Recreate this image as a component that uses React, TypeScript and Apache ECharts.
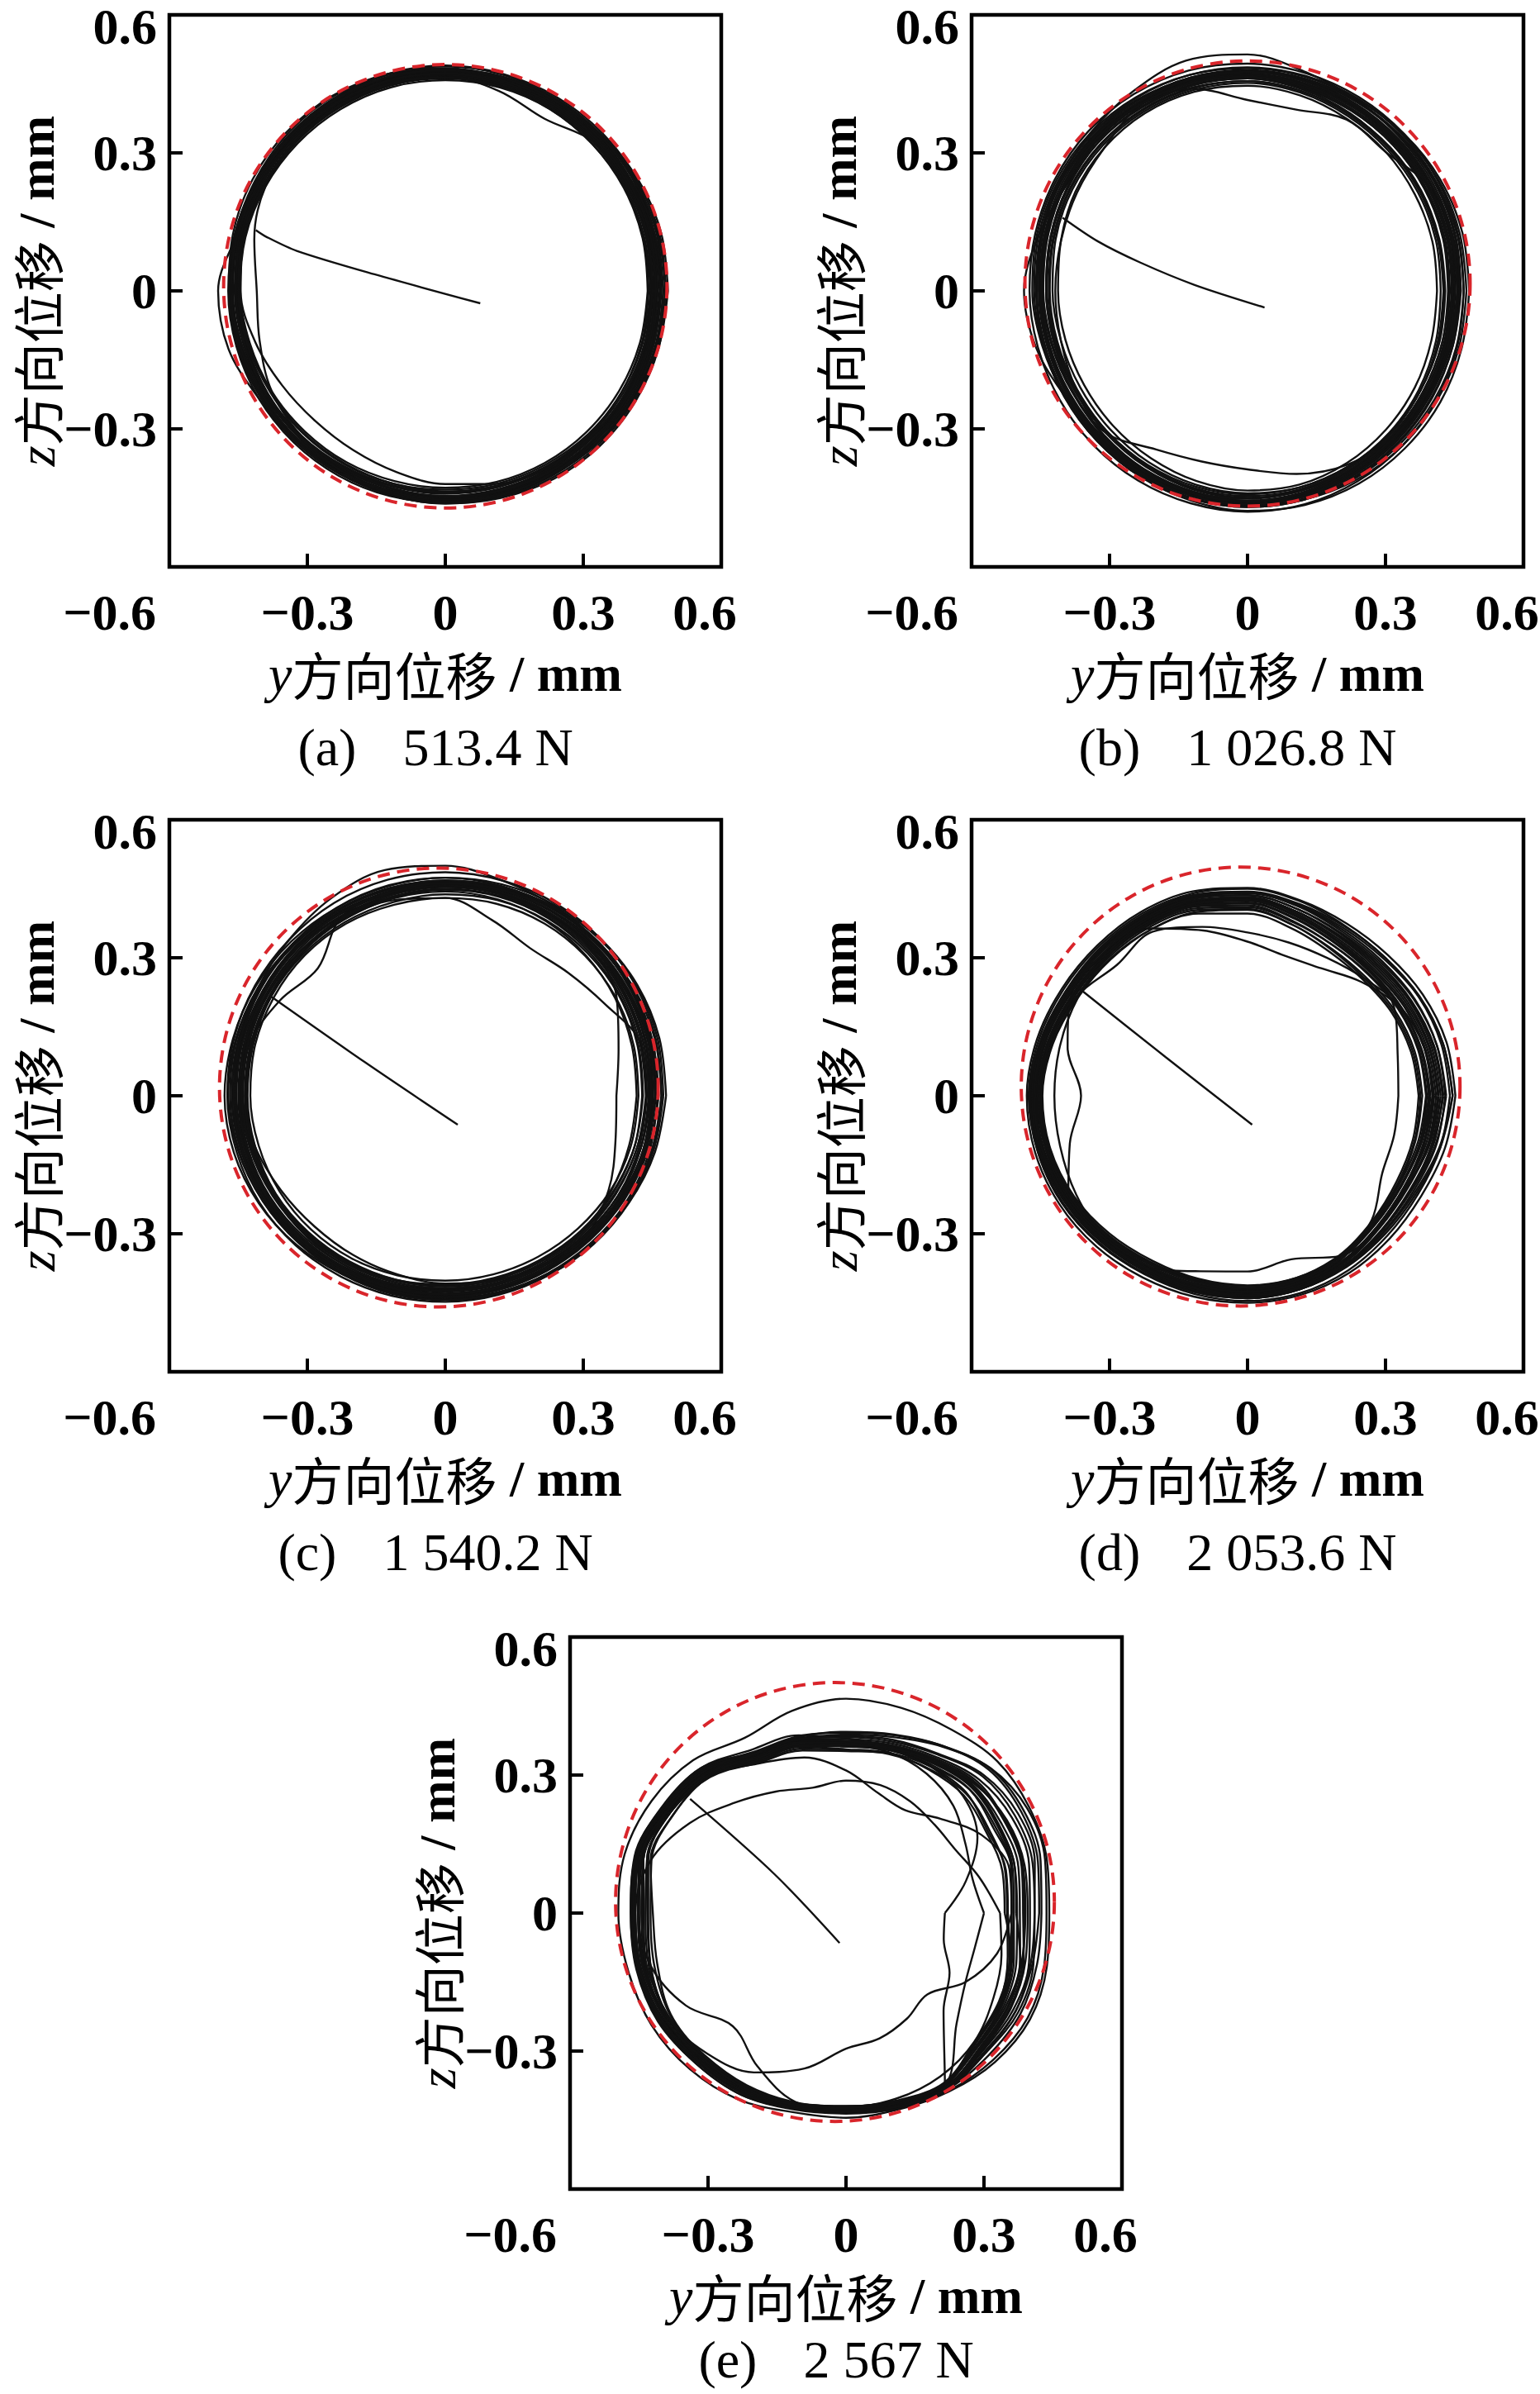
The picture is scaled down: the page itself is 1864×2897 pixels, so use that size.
import React, { useEffect, useRef } from 'react';
import * as echarts from 'echarts';

// ---------- data ----------
// readings of each orbit revolution: radius from the origin (mm x 1000) at these angles (deg, from +y towards +z)
const ANGLES = [0, 15, 30, 45, 60, 75, 90, 105, 120, 135, 150, 165, 180, 195, 210, 225, 240, 255, 270, 285, 300, 315, 330, 345];
const TICKS = [-0.6, -0.3, 0, 0.3, 0.6];
const LETTERS = ['a', 'b', 'c', 'd', 'e'];
const LOADS = ['513.4 N', '1 026.8 N', '1 540.2 N', '2 053.6 N', '2 567 N'];

const ORBIT_A = [
  [470, 472, 476, 478, 480, 482, 480, 478, 476, 474, 472, 470, 466, 462, 458, 456, 454, 452, 452, 454, 458, 462, 466, 468],
  [452, 455, 458, 460, 462, 463, 464, 466, 468, 466, 462, 458, 452, 448, 446, 444, 442, 440, 441, 442, 444, 447, 450, 451],
  [478, 480, 482, 484, 486, 488, 490, 488, 484, 480, 476, 474, 472, 470, 468, 466, 464, 462, 460, 462, 464, 468, 472, 476],
  [446, 448, 452, 456, 458, 460, 462, 462, 460, 458, 456, 452, 448, 444, 440, 438, 436, 434, 432, 434, 436, 440, 442, 444],
  [462, 466, 468, 458, 432, 450, 466, 472, 474, 470, 468, 466, 462, 458, 452, 448, 445, 446, 448, 450, 454, 456, 458, 460],
  [484, 486, 484, 480, 476, 474, 476, 480, 482, 478, 472, 470, 494, 488, 468, 462, 458, 456, 455, 458, 462, 468, 474, 480],
  [458, 460, 462, 464, 466, 468, 468, 470, 468, 466, 462, 456, 445, 428, 410, 400, 400, 408, 420, 434, 446, 452, 455, 456],
  [450, 452, 455, 458, 460, 462, 464, 464, 462, 458, 452, 430, 410, 418, 436, 444, 446, 446, 447, 448, 450, 452, 452, 450],
  [474, 476, 478, 480, 482, 482, 482, 482, 480, 478, 476, 474, 470, 468, 464, 462, 460, 458, 458, 460, 462, 466, 470, 472],
  [440, 444, 448, 452, 456, 458, 458, 458, 456, 454, 452, 450, 446, 440, 436, 432, 430, 428, 428, 430, 432, 434, 436, 438],
  [466, 468, 470, 474, 476, 478, 478, 476, 474, 472, 470, 466, 462, 460, 458, 456, 452, 450, 450, 452, 456, 458, 462, 464],
  [456, 458, 462, 464, 466, 466, 468, 468, 466, 462, 458, 456, 454, 452, 450, 448, 446, 446, 446, 446, 448, 450, 452, 454],
  [480, 482, 480, 476, 472, 470, 472, 474, 476, 476, 474, 472, 468, 464, 460, 458, 458, 460, 462, 466, 472, 476, 478, 480],
  [448, 452, 458, 462, 466, 468, 470, 472, 474, 472, 470, 468, 464, 458, 452, 446, 442, 440, 438, 440, 442, 444, 446, 448],
  [468, 470, 474, 478, 482, 486, 488, 486, 482, 478, 474, 470, 466, 460, 454, 450, 448, 446, 446, 448, 452, 458, 462, 466],
  [460, 462, 466, 470, 474, 476, 476, 474, 470, 466, 462, 458, 454, 450, 448, 448, 450, 452, 454, 456, 458, 458, 458, 460],
  [455, 460, 466, 468, 470, 474, 478, 480, 478, 472, 466, 462, 458, 454, 450, 446, 444, 444, 446, 450, 454, 456, 456, 455],
  [474, 472, 470, 470, 472, 476, 482, 486, 488, 484, 478, 472, 464, 458, 456, 456, 458, 460, 462, 464, 468, 472, 474, 474],
  [442, 446, 450, 452, 456, 460, 464, 466, 464, 460, 456, 452, 446, 442, 438, 436, 434, 434, 436, 438, 440, 442, 442, 442],
  [462, 464, 468, 472, 476, 478, 480, 482, 480, 476, 470, 464, 456, 452, 450, 450, 452, 454, 456, 458, 460, 462, 462, 462],
  [480, 478, 476, 476, 478, 480, 484, 488, 490, 488, 484, 478, 470, 466, 462, 460, 458, 456, 456, 458, 462, 468, 474, 478],
  [450, 456, 460, 462, 464, 466, 470, 474, 474, 470, 466, 460, 456, 452, 448, 444, 440, 438, 438, 440, 444, 448, 450, 450],
  [468, 466, 466, 468, 472, 474, 474, 472, 470, 468, 468, 468, 466, 462, 458, 454, 452, 452, 454, 458, 462, 466, 468, 468],
  [458, 462, 464, 466, 468, 470, 472, 474, 472, 468, 462, 456, 450, 446, 446, 448, 452, 456, 458, 460, 460, 460, 458, 458],
];
const ORBIT_B = [
  [470, 474, 478, 482, 486, 490, 494, 496, 494, 490, 484, 478, 474, 472, 472, 474, 476, 478, 480, 480, 478, 476, 474, 472],
  [430, 432, 436, 440, 444, 450, 456, 458, 456, 452, 446, 438, 432, 430, 430, 432, 436, 440, 442, 442, 440, 438, 434, 432],
  [452, 456, 460, 462, 464, 468, 472, 474, 472, 468, 462, 456, 450, 448, 448, 450, 454, 458, 460, 460, 458, 456, 454, 452],
  [420, 424, 428, 432, 438, 446, 452, 452, 450, 446, 440, 432, 424, 420, 420, 424, 430, 436, 440, 442, 440, 436, 430, 424],
  [460, 462, 455, 426, 430, 408, 415, 455, 468, 466, 460, 454, 450, 448, 450, 452, 456, 460, 462, 462, 460, 458, 456, 458],
  [448, 452, 456, 460, 464, 468, 472, 472, 470, 466, 460, 452, 446, 442, 440, 436, 398, 384, 388, 412, 436, 446, 448, 448],
  [458, 462, 466, 470, 478, 492, 514, 518, 500, 484, 472, 462, 454, 452, 452, 454, 458, 462, 464, 464, 462, 460, 458, 458],
  [440, 444, 448, 452, 456, 462, 466, 468, 466, 462, 456, 470, 486, 476, 458, 446, 448, 452, 456, 456, 452, 448, 444, 442],
  [476, 478, 480, 480, 480, 482, 484, 486, 486, 484, 480, 474, 468, 462, 458, 456, 458, 462, 466, 470, 474, 476, 476, 476],
  [412, 416, 420, 426, 432, 440, 446, 448, 446, 440, 432, 420, 412, 410, 410, 414, 420, 428, 434, 436, 432, 426, 420, 414],
  [450, 452, 456, 458, 462, 466, 470, 470, 466, 440, 428, 420, 418, 420, 430, 444, 452, 456, 458, 458, 456, 454, 452, 450],
  [464, 468, 472, 474, 476, 478, 480, 480, 478, 474, 470, 464, 458, 456, 456, 458, 462, 466, 468, 468, 466, 464, 462, 462],
  [436, 440, 444, 448, 452, 458, 462, 464, 462, 458, 452, 444, 438, 434, 434, 436, 440, 446, 450, 450, 448, 444, 440, 438],
  [482, 484, 484, 482, 480, 476, 476, 478, 480, 480, 476, 470, 464, 460, 460, 462, 466, 472, 478, 482, 484, 484, 484, 482],
  [444, 448, 452, 456, 460, 464, 468, 470, 468, 464, 458, 450, 444, 440, 440, 444, 450, 454, 456, 454, 450, 446, 444, 444],
  [456, 458, 462, 466, 470, 474, 476, 476, 472, 466, 458, 452, 448, 448, 450, 452, 456, 460, 462, 460, 456, 452, 450, 454],
  [462, 466, 470, 472, 474, 476, 478, 480, 478, 476, 470, 462, 458, 458, 460, 462, 466, 468, 470, 470, 468, 466, 464, 462],
  [428, 430, 434, 438, 446, 454, 462, 464, 462, 458, 450, 442, 436, 432, 432, 436, 442, 448, 450, 448, 444, 440, 434, 430],
  [450, 452, 456, 460, 466, 472, 478, 478, 474, 470, 462, 454, 450, 450, 452, 454, 458, 462, 464, 464, 462, 458, 454, 452],
  [438, 442, 446, 448, 452, 456, 462, 462, 460, 458, 452, 444, 438, 436, 438, 442, 448, 452, 452, 450, 448, 444, 440, 438],
  [470, 472, 474, 478, 482, 484, 486, 486, 484, 480, 474, 466, 460, 458, 458, 460, 464, 468, 470, 470, 470, 470, 470, 470],
  [446, 448, 452, 454, 456, 460, 466, 468, 468, 466, 460, 452, 448, 446, 446, 448, 452, 456, 458, 456, 452, 450, 448, 446],
  [456, 460, 462, 464, 468, 472, 476, 476, 474, 472, 466, 458, 452, 450, 452, 456, 460, 462, 464, 462, 460, 458, 456, 456],
  [426, 428, 432, 436, 442, 450, 456, 456, 454, 450, 444, 436, 430, 428, 428, 432, 438, 444, 446, 446, 444, 440, 434, 428],
];
const ORBIT_C = [
  [470, 474, 478, 480, 482, 484, 486, 486, 484, 480, 478, 476, 474, 470, 466, 460, 454, 450, 448, 448, 450, 454, 460, 466],
  [420, 424, 428, 430, 432, 432, 430, 430, 432, 432, 430, 428, 424, 420, 416, 412, 408, 404, 402, 402, 404, 408, 414, 418],
  [452, 456, 458, 460, 462, 462, 462, 460, 460, 460, 458, 458, 456, 452, 448, 444, 440, 438, 436, 436, 438, 442, 446, 450],
  [438, 440, 400, 378, 370, 395, 430, 440, 442, 444, 444, 442, 440, 436, 430, 424, 418, 416, 414, 414, 416, 420, 426, 432],
  [372, 390, 430, 450, 456, 458, 460, 460, 458, 456, 454, 452, 450, 448, 444, 438, 432, 428, 426, 426, 428, 432, 410, 383],
  [446, 450, 454, 456, 458, 458, 456, 455, 450, 392, 415, 440, 446, 444, 440, 434, 428, 424, 422, 422, 424, 428, 434, 440],
  [458, 462, 466, 470, 476, 484, 500, 508, 496, 480, 470, 464, 460, 456, 450, 444, 438, 434, 432, 432, 434, 438, 446, 452],
  [480, 482, 482, 480, 478, 476, 474, 472, 472, 474, 476, 478, 480, 476, 468, 458, 448, 442, 440, 442, 446, 452, 462, 472],
  [430, 434, 438, 442, 446, 448, 448, 446, 444, 440, 436, 432, 430, 428, 426, 422, 418, 414, 410, 410, 412, 416, 420, 426],
  [462, 464, 466, 466, 464, 462, 460, 460, 462, 464, 466, 466, 464, 460, 454, 448, 444, 442, 442, 444, 448, 452, 456, 460],
  [444, 446, 450, 454, 456, 456, 454, 452, 452, 454, 452, 448, 444, 440, 434, 428, 424, 420, 420, 422, 424, 428, 434, 440],
  [474, 478, 480, 478, 474, 470, 468, 466, 466, 468, 470, 472, 472, 466, 458, 450, 446, 444, 444, 446, 450, 456, 462, 468],
  [450, 452, 454, 454, 452, 450, 448, 448, 450, 450, 448, 446, 440, 428, 412, 402, 400, 402, 408, 416, 424, 432, 440, 446],
  [416, 420, 426, 432, 438, 442, 444, 444, 442, 440, 438, 436, 434, 432, 428, 424, 420, 416, 414, 414, 416, 420, 416, 414],
  [456, 460, 464, 468, 470, 472, 474, 474, 472, 468, 464, 460, 458, 456, 452, 446, 440, 436, 434, 434, 436, 440, 446, 452],
  [438, 442, 446, 450, 452, 454, 454, 452, 448, 444, 440, 438, 436, 434, 432, 430, 428, 426, 424, 424, 426, 430, 434, 436],
  [462, 466, 468, 470, 470, 468, 466, 466, 466, 468, 468, 466, 464, 460, 454, 448, 444, 440, 438, 438, 440, 444, 450, 456],
  [428, 432, 436, 438, 440, 440, 438, 436, 436, 436, 436, 434, 432, 430, 426, 420, 416, 414, 412, 412, 414, 418, 422, 426],
  [448, 452, 456, 458, 458, 458, 456, 456, 456, 458, 458, 456, 454, 450, 444, 440, 436, 434, 432, 432, 434, 438, 442, 446],
  [470, 472, 472, 470, 468, 466, 464, 464, 466, 468, 470, 470, 468, 464, 458, 452, 448, 446, 444, 444, 446, 450, 458, 464],
  [436, 438, 442, 446, 448, 450, 450, 448, 446, 446, 446, 444, 442, 438, 432, 426, 422, 420, 418, 418, 420, 424, 428, 432],
  [456, 458, 460, 462, 464, 464, 462, 460, 458, 456, 456, 456, 456, 452, 446, 440, 434, 430, 430, 430, 432, 436, 444, 450],
  [442, 446, 448, 450, 452, 454, 456, 458, 458, 456, 452, 450, 448, 446, 442, 438, 434, 432, 430, 430, 432, 434, 438, 440],
  [464, 466, 470, 472, 472, 470, 468, 468, 468, 466, 464, 462, 460, 458, 452, 444, 438, 434, 432, 432, 434, 440, 448, 456],
];
const ORBIT_D = [
  [440, 436, 430, 424, 426, 438, 450, 456, 458, 458, 462, 470, 476, 472, 466, 456, 448, 446, 446, 444, 438, 430, 428, 434],
  [380, 376, 370, 364, 368, 384, 404, 414, 418, 420, 426, 438, 446, 444, 436, 424, 414, 412, 412, 410, 402, 388, 380, 378],
  [420, 414, 408, 402, 406, 420, 436, 444, 446, 446, 448, 456, 462, 460, 454, 446, 438, 436, 436, 434, 426, 414, 410, 414],
  [396, 390, 382, 350, 320, 315, 335, 372, 420, 430, 438, 450, 458, 454, 448, 440, 432, 430, 430, 426, 418, 404, 398, 398],
  [404, 398, 385, 360, 346, 345, 355, 380, 412, 402, 430, 444, 452, 450, 444, 436, 430, 428, 428, 424, 414, 400, 394, 398],
  [410, 404, 396, 390, 394, 410, 428, 436, 438, 438, 442, 405, 362, 400, 450, 444, 436, 432, 432, 428, 420, 406, 400, 406],
  [416, 410, 404, 398, 400, 414, 430, 438, 440, 440, 444, 454, 460, 458, 450, 440, 430, 395, 382, 368, 402, 404, 400, 410],
  [328, 338, 370, 380, 384, 400, 420, 430, 434, 434, 438, 448, 456, 452, 446, 436, 428, 424, 424, 420, 410, 382, 338, 330],
  [452, 448, 440, 432, 432, 440, 452, 460, 462, 462, 466, 474, 480, 478, 472, 464, 456, 452, 450, 448, 444, 438, 436, 444],
  [372, 368, 362, 356, 360, 376, 396, 410, 418, 422, 428, 440, 448, 446, 440, 430, 420, 416, 414, 410, 400, 384, 374, 372],
  [430, 426, 420, 414, 416, 428, 442, 448, 450, 450, 452, 462, 470, 468, 460, 450, 442, 440, 440, 436, 428, 418, 416, 424],
  [398, 392, 386, 382, 388, 404, 424, 432, 436, 436, 440, 448, 454, 454, 448, 438, 428, 424, 422, 418, 408, 394, 388, 392],
  [446, 440, 432, 424, 424, 432, 444, 452, 454, 454, 456, 464, 472, 470, 464, 454, 446, 442, 440, 436, 430, 424, 424, 434],
  [390, 386, 380, 374, 376, 390, 410, 422, 428, 430, 434, 444, 452, 450, 444, 434, 424, 420, 418, 414, 404, 392, 386, 388],
  [424, 418, 410, 402, 402, 414, 430, 440, 444, 446, 450, 460, 466, 464, 456, 446, 436, 432, 432, 430, 424, 414, 410, 418],
  [406, 400, 392, 386, 390, 406, 424, 432, 436, 430, 426, 422, 420, 422, 430, 438, 432, 428, 428, 424, 416, 402, 396, 402],
  [432, 426, 418, 410, 412, 426, 440, 446, 448, 448, 452, 462, 468, 466, 458, 448, 440, 438, 438, 434, 426, 414, 412, 422],
  [388, 384, 378, 372, 376, 392, 414, 426, 430, 430, 434, 444, 450, 448, 440, 430, 420, 418, 418, 414, 404, 390, 382, 384],
  [414, 408, 400, 394, 398, 414, 432, 440, 442, 442, 446, 456, 462, 460, 452, 442, 434, 432, 432, 428, 420, 406, 402, 408],
  [446, 440, 430, 420, 420, 430, 442, 450, 452, 452, 456, 466, 474, 472, 466, 456, 446, 442, 440, 436, 428, 420, 420, 432],
  [376, 372, 366, 360, 366, 384, 406, 418, 424, 426, 430, 440, 448, 446, 438, 428, 418, 414, 414, 412, 402, 386, 378, 376],
  [402, 398, 392, 386, 390, 406, 426, 434, 436, 436, 440, 450, 456, 454, 448, 438, 428, 426, 426, 422, 414, 400, 394, 396],
  [426, 420, 412, 406, 408, 420, 436, 444, 446, 446, 448, 458, 464, 462, 454, 444, 436, 434, 434, 432, 424, 412, 408, 416],
  [394, 390, 384, 378, 382, 398, 418, 428, 432, 432, 436, 446, 452, 450, 444, 432, 422, 420, 420, 416, 408, 394, 388, 390],
];
const ORBIT_E = [
  [335, 300, 275, 272, 280, 288, 288, 282, 305, 340, 392, 440, 458, 462, 460, 448, 440, 432, 422, 418, 410, 395, 370, 350],
  [442, 452, 460, 466, 460, 462, 466, 455, 440, 470, 488, 498, 495, 490, 488, 480, 468, 448, 445, 442, 448, 458, 462, 452],
  [370, 380, 382, 388, 378, 372, 368, 384, 390, 428, 446, 456, 440, 450, 456, 446, 440, 432, 424, 428, 430, 408, 402, 392],
  [400, 412, 416, 410, 392, 382, 378, 392, 398, 438, 456, 470, 464, 466, 466, 456, 450, 438, 430, 434, 438, 422, 420, 412],
  [345, 352, 352, 362, 360, 360, 356, 374, 382, 420, 432, 438, 425, 432, 442, 440, 436, 428, 420, 424, 428, 398, 390, 372],
  [410, 425, 432, 424, 400, 390, 385, 394, 402, 446, 460, 474, 468, 470, 470, 462, 456, 440, 434, 438, 442, 430, 432, 422],
  [215, 270, 330, 360, 368, 370, 366, 380, 388, 424, 444, 458, 450, 452, 452, 440, 436, 430, 422, 426, 430, 300, 260, 220],
  [385, 395, 398, 400, 385, 376, 372, 386, 394, 434, 452, 466, 458, 462, 462, 450, 444, 436, 428, 432, 436, 416, 412, 400],
  [360, 368, 340, 290, 258, 270, 310, 350, 376, 420, 440, 448, 436, 444, 450, 442, 438, 432, 424, 428, 430, 404, 392, 374],
  [360, 372, 370, 380, 372, 368, 364, 380, 388, 426, 446, 460, 450, 454, 452, 430, 400, 350, 295, 282, 265, 250, 300, 340],
  [390, 398, 400, 404, 388, 378, 374, 388, 396, 436, 454, 466, 452, 440, 402, 348, 385, 425, 426, 430, 436, 412, 406, 396],
  [420, 432, 440, 440, 420, 402, 394, 396, 400, 440, 456, 470, 462, 468, 468, 458, 452, 440, 432, 436, 440, 426, 426, 420],
  [352, 360, 356, 370, 368, 366, 362, 378, 386, 424, 440, 445, 430, 440, 448, 444, 440, 434, 426, 428, 432, 400, 388, 368],
  [436, 448, 455, 445, 418, 396, 388, 390, 398, 442, 460, 476, 468, 472, 472, 462, 456, 442, 436, 440, 446, 452, 456, 446],
  [378, 388, 390, 392, 380, 374, 370, 384, 392, 432, 446, 456, 445, 450, 456, 448, 442, 436, 428, 430, 434, 414, 408, 392],
  [300, 285, 300, 330, 350, 362, 364, 378, 390, 430, 450, 462, 452, 456, 456, 444, 440, 432, 424, 428, 432, 340, 300, 290],
  [395, 402, 404, 396, 378, 372, 380, 400, 410, 446, 462, 472, 460, 464, 462, 452, 446, 438, 430, 432, 436, 420, 414, 404],
  [360, 372, 375, 380, 368, 360, 352, 366, 378, 418, 440, 456, 444, 448, 446, 436, 432, 426, 420, 422, 426, 396, 384, 370],
  [388, 398, 402, 398, 382, 374, 374, 390, 398, 436, 454, 468, 458, 462, 462, 452, 444, 436, 428, 432, 436, 418, 412, 398],
  [365, 375, 380, 386, 376, 368, 362, 376, 384, 424, 440, 448, 432, 440, 448, 440, 436, 430, 422, 426, 428, 404, 394, 378],
  [410, 420, 424, 420, 398, 386, 382, 392, 400, 440, 458, 470, 462, 466, 464, 454, 448, 438, 430, 434, 440, 428, 426, 416],
  [372, 380, 384, 390, 380, 372, 366, 380, 388, 428, 448, 462, 452, 458, 456, 444, 440, 432, 424, 428, 430, 406, 398, 384],
  [425, 438, 446, 444, 420, 400, 392, 398, 404, 444, 460, 474, 466, 470, 468, 458, 452, 440, 432, 436, 442, 438, 438, 430],
  [350, 358, 360, 368, 362, 358, 354, 370, 380, 420, 432, 440, 420, 425, 440, 438, 434, 428, 420, 424, 428, 396, 386, 364],
];

// start-up path from the centre to the orbit, [y, z] in mm
const START_A = [[0.076, -0.027], [-0.154, 0.036], [-0.323, 0.087], [-0.39, 0.118], [-0.412, 0.132]];
const START_B = [[0.037, -0.036], [-0.115, 0.013], [-0.234, 0.062], [-0.326, 0.108], [-0.402, 0.159]];
const START_C = [[0.027, -0.063], [-0.175, 0.073], [-0.378, 0.215]];
const START_D = [[0.01, -0.063], [-0.178, 0.084], [-0.377, 0.242]];
const START_E = [[-0.014, -0.065], [-0.155, 0.084], [-0.339, 0.248]];

// clearance circle: [centre y, centre z, radius] in mm
const CIRCLE_A = [0.0, 0.01, 0.482];
const CIRCLE_B = [0.0, 0.016, 0.484];
const CIRCLE_C = [-0.014, 0.018, 0.477];
const CIRCLE_D = [-0.015, 0.02, 0.477];
const CIRCLE_E = [-0.024, 0.024, 0.477];

const ORBITS = [ORBIT_A, ORBIT_B, ORBIT_C, ORBIT_D, ORBIT_E];
const STARTS = [START_A, START_B, START_C, START_D, START_E];
const CIRCLES = [CIRCLE_A, CIRCLE_B, CIRCLE_C, CIRCLE_D, CIRCLE_E];

// ---------- layout ----------
const PAGE_H = 2897;
const SIZE = 668;
const LAYOUT = [
  { left: 205, top: 18 },
  { left: 1176, top: 18 },
  { left: 205, top: 992 },
  { left: 1176, top: 992 },
  { left: 690, top: 1981 },
];
const SERIF = "'Liberation Serif', 'Times New Roman', serif";
const CJK = "'Noto Sans CJK SC', sans-serif";

const fmt = (v: number) => {
  const r = Math.round(v * 10) / 10;
  return String(r === 0 ? 0 : r).replace('-', '\u2212');
};
const near = (a: number, b: number) => Math.abs(a - b) < 1e-6;

// polar reading (radius in mm x 1000 at ANGLES) -> closed list of [y, z] in mm
const toYZ = (loop: number[]) => {
  const pts = loop.map((r, k) => {
    const a = (ANGLES[k] * Math.PI) / 180;
    return [(r / 1000) * Math.cos(a), (r / 1000) * Math.sin(a)];
  });
  pts.push(pts[0]);
  return pts;
};

function buildOption() {
  const labelBase = { fontSize: 62, fontWeight: 'bold', fontFamily: SERIF, color: '#000' };
  const titleRich = {
    i: { fontStyle: 'italic', fontFamily: SERIF, fontSize: 64, lineHeight: 64, color: '#000' },
    c: { fontFamily: CJK, fontSize: 62, lineHeight: 64, color: '#000' },
    b: { fontFamily: SERIF, fontWeight: 'bold', fontSize: 62, lineHeight: 64, color: '#000' },
  };
  const series: any[] = [];
  const graphic: any[] = [];
  LAYOUT.forEach((p, i) => {
    ORBITS[i].forEach((loop) => {
      series.push({
        type: 'line',
        xAxisIndex: i,
        yAxisIndex: i,
        data: toYZ(loop),
        symbol: 'none',
        showSymbol: false,
        smooth: 0.35,
        smoothMonotone: 'none',
        silent: true,
        lineStyle: { color: '#111', width: 2.4, join: 'round' },
        z: 2,
      });
    });
    series.push({
      type: 'line',
      xAxisIndex: i,
      yAxisIndex: i,
      data: STARTS[i],
      symbol: 'none',
      showSymbol: false,
      smooth: 0.3,
      silent: true,
      lineStyle: { color: '#111', width: 2.4 },
      z: 2,
    });
    series.push({
      type: 'custom',
      xAxisIndex: i,
      yAxisIndex: i,
      data: [CIRCLES[i]],
      encode: { x: 0, y: 1 },
      silent: true,
      z: 5,
      renderItem: (params: any, api: any) => {
        const c = api.coord([api.value(0), api.value(1)]);
        const s = api.size([api.value(2), api.value(2)]);
        return {
          type: 'circle',
          shape: { cx: c[0], cy: c[1], r: s[0] },
          style: { fill: 'none', stroke: '#d9252b', lineWidth: 4, lineDash: [15, 9] },
        };
      },
    });
    const cx = p.left + SIZE / 2;
    const cy = p.top + SIZE / 2;
    graphic.push({
      type: 'text',
      x: cx,
      y: p.top + SIZE + 129,
      style: {
        text: '{i|y}{c|方向位移}{b| / mm}',
        rich: titleRich,
        align: 'center',
        verticalAlign: 'middle',
        textAlign: 'center',
        textVerticalAlign: 'middle',
      },
    });
    graphic.push({
      type: 'text',
      x: p.left - 161,
      y: cy,
      rotation: Math.PI / 2,
      style: {
        text: '{i|z}{c|方向位移}{b| / mm}',
        rich: titleRich,
        align: 'center',
        verticalAlign: 'middle',
        textAlign: 'center',
        textVerticalAlign: 'middle',
      },
    });
    graphic.push({
      type: 'text',
      x: cx - 12,
      y: Math.min(p.top + SIZE + 218, PAGE_H - 42),
      style: {
        text: `{p|(${LETTERS[i]})}{v|${LOADS[i]}}`,
        rich: {
          p: { fontFamily: SERIF, fontSize: 64, color: '#000', padding: [0, 56, 0, 0] },
          v: { fontFamily: SERIF, fontSize: 64, color: '#000' },
        },
        align: 'center',
        verticalAlign: 'middle',
        textAlign: 'center',
        textVerticalAlign: 'middle',
      },
    });
  });

  const tick = { show: true, inside: true, length: 16, lineStyle: { color: '#000', width: 4 } };
  return {
    animation: false,
    backgroundColor: '#fff',
    grid: LAYOUT.map((p) => ({
      left: p.left,
      top: p.top,
      width: SIZE,
      height: SIZE,
      show: true,
      containLabel: false,
      outerBoundsMode: 'none',
      borderColor: '#000',
      borderWidth: 4.5,
      backgroundColor: 'transparent',
    })),
    xAxis: LAYOUT.map((_, i) => ({
      gridIndex: i,
      type: 'value',
      position: 'bottom',
      min: TICKS[0],
      max: TICKS[TICKS.length - 1],
      interval: 0.3,
      axisLine: { show: false, onZero: false },
      axisTick: tick,
      splitLine: { show: false },
      axisLabel: {
        ...labelBase,
        margin: 24,
        showMinLabel: true,
        showMaxLabel: true,
        alignMinLabel: 'right',
        alignMaxLabel: 'center',
        formatter: (v: number) =>
          near(v, TICKS[0]) ? `{mn|${fmt(v)}}` : near(v, TICKS[4]) ? `{mx|${fmt(v)}}` : fmt(v),
        rich: {
          mn: { ...labelBase, padding: [0, 16, 0, 0] },
          mx: { ...labelBase, padding: [0, 40, 0, 0] },
        },
      },
    })),
    yAxis: LAYOUT.map((_, i) => ({
      gridIndex: i,
      type: 'value',
      position: 'left',
      min: TICKS[0],
      max: TICKS[TICKS.length - 1],
      interval: 0.3,
      axisLine: { show: false, onZero: false },
      axisTick: tick,
      splitLine: { show: false },
      axisLabel: {
        ...labelBase,
        margin: 15,
        showMinLabel: true,
        showMaxLabel: true,
        formatter: (v: number) => (near(v, TICKS[0]) ? '' : near(v, TICKS[4]) ? `{mx|${fmt(v)}}` : fmt(v)),
        rich: { mx: { ...labelBase, lineHeight: 18, padding: [28, 0, 0, 0] } },
      },
    })),
    series,
    graphic,
  };
}

export default function App() {
  const ref = useRef<HTMLDivElement>(null);
  useEffect(() => {
    if (!ref.current) return;
    const chart = echarts.init(ref.current, undefined, { renderer: 'svg' });
    chart.setOption(buildOption() as any);
    return () => chart.dispose();
  }, []);
  return (
    <div
      ref={ref}
      style={{ position: 'absolute', left: 0, top: 0, width: 1864, height: PAGE_H, background: '#fff' }}
    />
  );
}
